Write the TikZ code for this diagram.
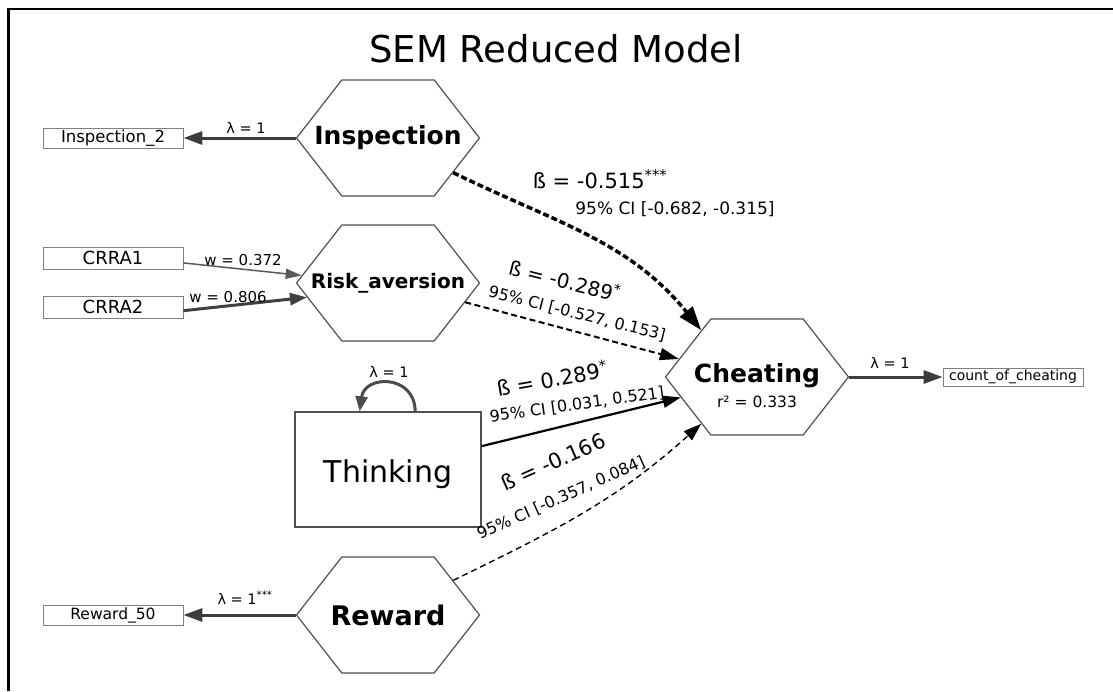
\documentclass[tikz,border=0pt]{standalone}
\usepackage{fontspec}
\setmainfont{DejaVu Sans}
\usetikzlibrary{shapes.symbols,arrows.meta}
\definecolor{hexline}{HTML}{505050}
\definecolor{boxline}{HTML}{808080}
\definecolor{loadcol}{HTML}{3C3C3C}
\newcommand{\fsz}[1]{\fontsize{#1}{#1}\selectfont}
\newcommand{\zw}[1]{\makebox[0pt]{#1}}
\begin{document}
\begin{tikzpicture}[x=1pt,y=1pt,
  hexnode/.style={shape=signal, signal to=west and east, signal pointer angle=104,
    draw=hexline, line width=1.2pt, fill=white, minimum width=183pt,
    minimum height=116pt, inner sep=0pt},
  obsbox/.style={draw=boxline, line width=0.8pt, fill=white, minimum width=140pt, inner sep=0pt},
  thinkbox/.style={draw=hexline, line width=1.3pt, fill=white, minimum width=186pt,
    minimum height=115pt, inner sep=0pt},
  txt/.style={inner sep=0pt},
  loadarrow/.style={draw=loadcol, line width=3pt, -{Triangle[length=19pt,width=13pt]}},
  formthin/.style={draw=black!65, line width=1.5pt, -{Triangle[length=16pt,width=10pt]}},
  formthick/.style={draw=black!75, line width=3pt, -{Triangle[length=17pt,width=12pt]}},
  loopedge/.style={draw=black!70, line width=3pt, -{Triangle[length=15pt,width=12pt]}},
  dashthick/.style={draw=black, line width=3.5pt, dash pattern=on 6pt off 3pt, -{Triangle[length=24pt,width=16pt]}},
  dashmid/.style={draw=black, line width=2pt, dash pattern=on 6pt off 3.5pt, -{Triangle[length=19pt,width=12pt]}},
  solidmid/.style={draw=black, line width=2.2pt, -{Triangle[length=18pt,width=12pt]}},
  dashthin/.style={draw=black, line width=1.4pt, dash pattern=on 6pt off 4pt, -{Triangle[length=18pt,width=12pt]}}
]
\useasboundingbox (0,0) rectangle (1113,-691);
\draw[line width=2.6pt] (8.5,-691) -- (8.5,-9) -- (1113,-9);

\node[txt, anchor=base, font=\fsz{37}] (title) at (556,-62) {SEM Reduced Model};

% latent / composite nodes
\node[hexnode, font=\fsz{25}\bfseries] (insp) at (388,-138) {\zw{Inspection}};
\node[hexnode, font=\fsz{20}\bfseries] (risk) at (388,-283) {\zw{Risk\_aversion}};
\node[hexnode, font=\fsz{27}\bfseries] (reward) at (388,-615) {\zw{Reward}};
\node[hexnode] (cheat) at (757,-377) {};
\node[txt, anchor=base, font=\fsz{25}\bfseries] (cheatlab) at (757,-382) {Cheating};
\node[txt, anchor=base, font=\fsz{15.5}] (r2lab) at (757,-407) {r² = 0.333};
\node[thinkbox] (think) at (388,-469.5) {};
\node[txt, anchor=base, font=\fsz{30}] (thinklab) at (388,-482) {Thinking};

% observed boxes
\node[obsbox, minimum height=20pt, font=\fsz{16.5}] (insp2) at (113,-138) {Inspection\_2};
\node[obsbox, minimum height=22pt, font=\fsz{18}] (crra1) at (113,-258) {CRRA1};
\node[obsbox, minimum height=22pt, font=\fsz{18}] (crra2) at (113,-307) {CRRA2};
\node[obsbox, minimum height=20pt, font=\fsz{15.5}] (rew50) at (113,-615) {Reward\_50};
\node[obsbox, minimum height=18pt, font=\fsz{14}] (count) at (1013,-377) {count\_of\_cheating};

% edges
\draw[loadarrow] (insp.west) -- (insp2.east);
\draw[loadarrow] (reward.west) -- (rew50.east);
\draw[loadarrow] (cheat.east) -- (count.west);
\draw[formthin] (crra1.-4) -- (risk.175);
\draw[formthick] (crra2.-3) -- (risk.190);
\draw[loopedge] (think.65) .. controls +(0,37) and +(5,37) .. (think.116);
\draw[dashthick] (insp.-28) to[out=-26,in=129] (cheat.140);
\draw[dashmid] (risk.-14.5) -- (cheat.167);
\draw[solidmid] (think.14) -- (cheat.195);
\draw[dashthin] (reward.28) to[out=26,in=-138] (cheat.220);

% edge labels
\node[txt, anchor=base, font=\fsz{14.5}] (linsp) at (246,-133) {λ = 1};
\node[txt, anchor=base, font=\fsz{14.5}] (lloop) at (389,-377) {λ = 1};
\node[txt, anchor=base, font=\fsz{14.5}] (lcheat) at (890,-368) {λ = 1};
\node[txt, anchor=base, font=\fsz{14.5}] (lrew) at (245,-604) {λ = 1\textsuperscript{***}};
\node[txt, anchor=base, font=\fsz{15}] (w1) at (243,-265) {w = 0.372};
\node[txt, anchor=base, font=\fsz{15}] (w2) at (228,-302) {w = 0.806};

\node[txt, anchor=base, font=\fsz{21}] (b1) at (600,-188) {ß = -0.515\textsuperscript{***}};
\node[txt, anchor=base, font=\fsz{17}] (c1) at (675,-214) {95\% CI [-0.682, -0.315]};
\node[txt, rotate=-14, font=\fsz{20}] (b2) at (565,-280) {ß = -0.289\textsuperscript{*}};
\node[txt, rotate=-14, font=\fsz{16}] (c2) at (577,-314) {95\% CI [-0.527, 0.153]};
\node[txt, rotate=10, font=\fsz{21}] (b3) at (552,-378) {ß = 0.289\textsuperscript{*}};
\node[txt, rotate=8, font=\fsz{16}] (c3) at (577,-405) {95\% CI [0.031, 0.521]};
\node[txt, rotate=24, font=\fsz{21}] (b4) at (553,-462) {ß = -0.166};
\node[txt, rotate=24, font=\fsz{16}] (c4) at (561,-498) {95\% CI [-0.357, 0.084]};
\end{tikzpicture}
\end{document}
